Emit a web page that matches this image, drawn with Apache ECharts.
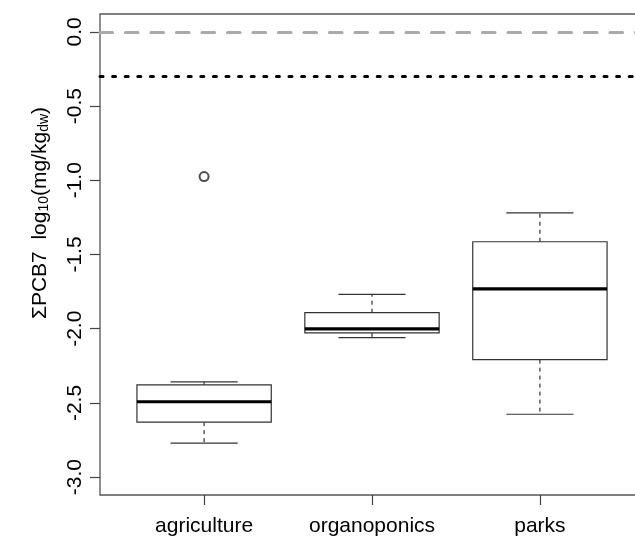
<!DOCTYPE html>
<html>
<head>
<meta charset="utf-8">
<script src="https://cdn.jsdelivr.net/npm/echarts@6/dist/echarts.min.js"></script>
<style>
html,body{margin:0;padding:0;background:#fff;}
#chart{width:635px;height:537px;}
</style>
</head>
<body>
<div id="chart"></div>
<script>
const categories = ['agriculture', 'organoponics', 'parks'];
const whiskerLow = [-2.771, -2.060, -2.576];
const q1 = [-2.629, -2.028, -2.208];
const median = [-2.492, -2.001, -1.732];
const q3 = [-2.378, -1.892, -1.414];
const whiskerHigh = [-2.358, -1.769, -1.219];
const outlierGroup = [1];
const outlierValue = [-0.975];
const refLineGrey = 0;
const refLineDotted = -0.301;
const yTicks = [-3, -2.5, -2, -1.5, -1, -0.5, 0];
const xTicks = [1, 2, 3];

const FONT = '"Liberation Sans", Arial, Helvetica, sans-serif';

const boxData = categories.map((c, i) => [i + 1, whiskerLow[i], q1[i], median[i], q3[i], whiskerHigh[i]]);
const outlierData = outlierGroup.map((g, i) => [g, outlierValue[i]]);

function renderBox(params, api) {
  const x = api.value(0);
  const pLow = api.coord([x, api.value(1)]);
  const pQ1 = api.coord([x, api.value(2)]);
  const pMed = api.coord([x, api.value(3)]);
  const pQ3 = api.coord([x, api.value(4)]);
  const pHigh = api.coord([x, api.value(5)]);
  const halfBox = api.size([0.4, 0])[0];
  const halfCap = api.size([0.2, 0])[0];
  const cx = pMed[0];
  const stroke = '#333';
  const thin = 1.2;
  return {
    type: 'group',
    children: [
      {type: 'line', shape: {x1: cx, y1: pQ3[1], x2: cx, y2: pHigh[1]},
       style: {stroke: stroke, lineWidth: thin, lineDash: [4, 4]}},
      {type: 'line', shape: {x1: cx, y1: pQ1[1], x2: cx, y2: pLow[1]},
       style: {stroke: stroke, lineWidth: thin, lineDash: [4, 4]}},
      {type: 'line', shape: {x1: cx - halfCap, y1: pHigh[1], x2: cx + halfCap, y2: pHigh[1]},
       style: {stroke: stroke, lineWidth: thin}},
      {type: 'line', shape: {x1: cx - halfCap, y1: pLow[1], x2: cx + halfCap, y2: pLow[1]},
       style: {stroke: stroke, lineWidth: thin}},
      {type: 'rect', shape: {x: cx - halfBox, y: pQ3[1], width: 2 * halfBox, height: pQ1[1] - pQ3[1]},
       style: {fill: 'rgba(255,255,255,0)', stroke: stroke, lineWidth: thin}},
      {type: 'line', shape: {x1: cx - halfBox, y1: pMed[1], x2: cx + halfBox, y2: pMed[1]},
       style: {stroke: '#000', lineWidth: 3.2}}
    ]
  };
}

const chart = echarts.init(document.getElementById('chart'), null, {renderer: 'canvas'});
chart.setOption({
  animation: false,
  backgroundColor: '#fff',
  grid: {
    left: 100, top: 14, width: 544, height: 481,
    show: true, borderColor: '#555', borderWidth: 1.3, backgroundColor: 'transparent',
    containLabel: false, outerBoundsMode: 'none'
  },
  xAxis: {
    type: 'value', min: 0.38, max: 3.62, position: 'bottom',
    axisLine: {show: false, onZero: false},
    splitLine: {show: false},
    axisTick: {show: true, customValues: xTicks, length: 10, lineStyle: {color: '#444', width: 1.2}},
    axisLabel: {
      customValues: xTicks, margin: 21, fontSize: 21, color: '#000', fontFamily: FONT,
      formatter: v => categories[Math.round(v) - 1]
    }
  },
  yAxis: {
    type: 'value', min: -3.12, max: 0.12, position: 'left',
    axisLine: {show: false, onZero: false},
    splitLine: {show: false},
    axisTick: {show: true, customValues: yTicks, length: 10, lineStyle: {color: '#444', width: 1.2}},
    axisLabel: {
      customValues: yTicks, margin: 14, fontSize: 21, color: '#000', fontFamily: FONT, rotate: 90,
      formatter: v => v.toFixed(1)
    }
  },
  graphic: [{
    type: 'text', x: 38, y: 213, rotation: Math.PI / 2,
    style: {
      text: '{m|ΣPCB7  log}{s|10}{m|(mg/kg}{s|dw}{m|)}',
      align: 'center', verticalAlign: 'middle',
      rich: {
        m: {fontSize: 21, fontFamily: FONT, fill: '#000', lineHeight: 26, verticalAlign: 'bottom'},
        s: {fontSize: 14, fontFamily: FONT, fill: '#000', lineHeight: 17, verticalAlign: 'bottom'}
      }
    }
  }],
  series: [
    {
      type: 'line', data: [], silent: true,
      markLine: {
        silent: true, symbol: ['none', 'none'], label: {show: false},
        data: [
          {yAxis: refLineGrey, lineStyle: {color: '#aaaaaa', width: 3.2, type: [12.5, 13], cap: 'round'}},
          {yAxis: refLineDotted, lineStyle: {color: '#000', width: 3, type: [3, 9.6], cap: 'round'}}
        ]
      }
    },
    {
      type: 'custom', renderItem: renderBox, data: boxData,
      encode: {x: 0, y: [1, 2, 3, 4, 5]}
    },
    {
      type: 'scatter', data: outlierData, symbol: 'emptyCircle', symbolSize: 9,
      itemStyle: {color: '#222', borderColor: '#222', borderWidth: 1.2}
    }
  ]
});
</script>
</body>
</html>
